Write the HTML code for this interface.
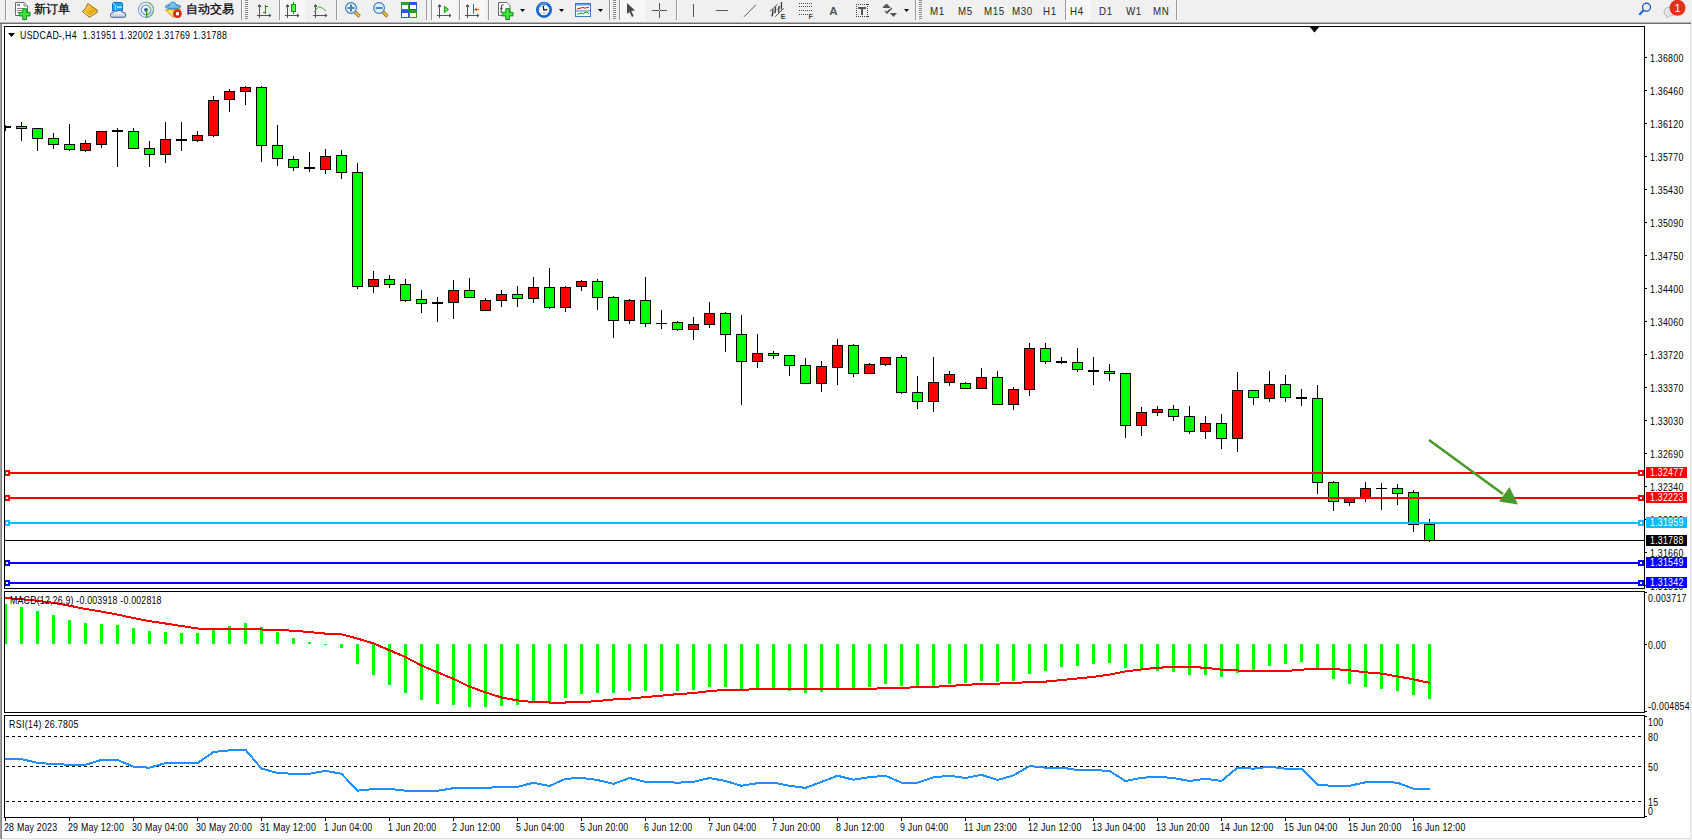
<!DOCTYPE html><html><head><meta charset="utf-8"><title>MT4 USDCAD H4</title><style>html,body{margin:0;padding:0;width:1692px;height:840px;overflow:hidden;background:#f0f0f0;}svg{position:absolute;left:0;top:0;display:block}text{font-family:"Liberation Sans",sans-serif}</style></head><body><svg width="1692" height="840" viewBox="0 0 1692 840" font-family="Liberation Sans, sans-serif"><rect x="0" y="0" width="1692" height="22" fill="#f0f0f0"/><g shape-rendering="crispEdges"><rect x="281" y="0" width="24" height="20" fill="#f7f7f7"/><rect x="281" y="20" width="24" height="1" fill="#fcfcfc"/><rect x="432" y="0" width="25" height="20" fill="#f7f7f7"/><rect x="432" y="20" width="25" height="1" fill="#fcfcfc"/><rect x="460" y="0" width="25" height="20" fill="#f7f7f7"/><rect x="460" y="20" width="25" height="1" fill="#fcfcfc"/><rect x="620" y="0" width="25" height="20" fill="#f7f7f7"/><rect x="620" y="20" width="25" height="1" fill="#fcfcfc"/><rect x="1066" y="0" width="24" height="20" fill="#f7f7f7"/><rect x="1066" y="20" width="24" height="1" fill="#fcfcfc"/><rect x="5" y="0" width="1" height="20" fill="#999"/><rect x="6" y="0" width="1" height="20" fill="#fbfbfb"/><rect x="241" y="0" width="1" height="20" fill="#999"/><rect x="242" y="0" width="1" height="20" fill="#fbfbfb"/><rect x="245" y="0" width="3" height="1" fill="#8c8c8c"/><rect x="245" y="2" width="3" height="1" fill="#8c8c8c"/><rect x="245" y="4" width="3" height="1" fill="#8c8c8c"/><rect x="245" y="6" width="3" height="1" fill="#8c8c8c"/><rect x="245" y="8" width="3" height="1" fill="#8c8c8c"/><rect x="245" y="10" width="3" height="1" fill="#8c8c8c"/><rect x="245" y="12" width="3" height="1" fill="#8c8c8c"/><rect x="245" y="14" width="3" height="1" fill="#8c8c8c"/><rect x="245" y="16" width="3" height="1" fill="#8c8c8c"/><rect x="245" y="18" width="3" height="1" fill="#8c8c8c"/><rect x="279" y="0" width="1" height="20" fill="#999"/><rect x="280" y="0" width="1" height="20" fill="#fbfbfb"/><rect x="336" y="0" width="1" height="20" fill="#999"/><rect x="337" y="0" width="1" height="20" fill="#fbfbfb"/><rect x="426" y="0" width="1" height="20" fill="#999"/><rect x="427" y="0" width="1" height="20" fill="#fbfbfb"/><rect x="431" y="0" width="1" height="20" fill="#999"/><rect x="432" y="0" width="1" height="20" fill="#fbfbfb"/><rect x="459" y="0" width="1" height="20" fill="#999"/><rect x="460" y="0" width="1" height="20" fill="#fbfbfb"/><rect x="488" y="0" width="1" height="20" fill="#999"/><rect x="489" y="0" width="1" height="20" fill="#fbfbfb"/><rect x="609" y="0" width="1" height="20" fill="#999"/><rect x="610" y="0" width="1" height="20" fill="#fbfbfb"/><rect x="613" y="0" width="3" height="1" fill="#8c8c8c"/><rect x="613" y="2" width="3" height="1" fill="#8c8c8c"/><rect x="613" y="4" width="3" height="1" fill="#8c8c8c"/><rect x="613" y="6" width="3" height="1" fill="#8c8c8c"/><rect x="613" y="8" width="3" height="1" fill="#8c8c8c"/><rect x="613" y="10" width="3" height="1" fill="#8c8c8c"/><rect x="613" y="12" width="3" height="1" fill="#8c8c8c"/><rect x="613" y="14" width="3" height="1" fill="#8c8c8c"/><rect x="613" y="16" width="3" height="1" fill="#8c8c8c"/><rect x="613" y="18" width="3" height="1" fill="#8c8c8c"/><rect x="619" y="0" width="1" height="20" fill="#999"/><rect x="620" y="0" width="1" height="20" fill="#fbfbfb"/><rect x="676" y="0" width="1" height="20" fill="#999"/><rect x="677" y="0" width="1" height="20" fill="#fbfbfb"/><rect x="915" y="0" width="1" height="20" fill="#999"/><rect x="916" y="0" width="1" height="20" fill="#fbfbfb"/><rect x="919" y="0" width="3" height="1" fill="#8c8c8c"/><rect x="919" y="2" width="3" height="1" fill="#8c8c8c"/><rect x="919" y="4" width="3" height="1" fill="#8c8c8c"/><rect x="919" y="6" width="3" height="1" fill="#8c8c8c"/><rect x="919" y="8" width="3" height="1" fill="#8c8c8c"/><rect x="919" y="10" width="3" height="1" fill="#8c8c8c"/><rect x="919" y="12" width="3" height="1" fill="#8c8c8c"/><rect x="919" y="14" width="3" height="1" fill="#8c8c8c"/><rect x="919" y="16" width="3" height="1" fill="#8c8c8c"/><rect x="919" y="18" width="3" height="1" fill="#8c8c8c"/><rect x="1065" y="0" width="1" height="20" fill="#999"/><rect x="1066" y="0" width="1" height="20" fill="#fbfbfb"/><rect x="1176" y="0" width="1" height="20" fill="#999"/><rect x="1177" y="0" width="1" height="20" fill="#fbfbfb"/></g><text x="33.5" y="12.6" fill="#000" stroke="#000" stroke-width="0.25" font-size="12" letter-spacing="0.2">新订单</text><text x="186" y="12.6" fill="#000" stroke="#000" stroke-width="0.25" font-size="12" letter-spacing="0">自动交易</text><text transform="translate(930,14.6) scale(0.95,1)" fill="#2a2a2a" font-size="10.3" letter-spacing="0.6">M1</text><text transform="translate(958,14.6) scale(0.95,1)" fill="#2a2a2a" font-size="10.3" letter-spacing="0.6">M5</text><text transform="translate(984,14.6) scale(0.95,1)" fill="#2a2a2a" font-size="10.3" letter-spacing="0.6">M15</text><text transform="translate(1012,14.6) scale(0.95,1)" fill="#2a2a2a" font-size="10.3" letter-spacing="0.6">M30</text><text transform="translate(1043,14.6) scale(0.95,1)" fill="#2a2a2a" font-size="10.3" letter-spacing="0.6">H1</text><text transform="translate(1070,14.6) scale(0.95,1)" fill="#2a2a2a" font-size="10.3" letter-spacing="0.6">H4</text><text transform="translate(1099,14.6) scale(0.95,1)" fill="#2a2a2a" font-size="10.3" letter-spacing="0.6">D1</text><text transform="translate(1126,14.6) scale(0.95,1)" fill="#2a2a2a" font-size="10.3" letter-spacing="0.6">W1</text><text transform="translate(1153,14.6) scale(0.95,1)" fill="#2a2a2a" font-size="10.3" letter-spacing="0.6">MN</text><path d="M15.5,2.5 H24 L27.5,6 V15.5 H15.5 Z" fill="#fff" stroke="#6a6a6a" stroke-width="1"/><path d="M24,2.5 V6 H27.5" fill="#ddd" stroke="#6a6a6a" stroke-width="0.8"/><g fill="#8a8a8a" shape-rendering="crispEdges"><rect x="17" y="4" width="3" height="2"/><rect x="17" y="8" width="6" height="1"/><rect x="17" y="10" width="5" height="1"/><rect x="17" y="12" width="4" height="1"/></g><path d="M22.8,8.7 h3.6 v3.6 h3.6 v3.6 h-3.6 v3.6 h-3.6 v-3.6 h-3.6 v-3.6 h3.6 z" fill="#3ce83c" stroke="#0a8a12" stroke-width="1"/><defs><linearGradient id="gbook" x1="0" y1="0" x2="1" y2="1"><stop offset="0" stop-color="#fff090"/><stop offset="0.5" stop-color="#e8b418"/><stop offset="1" stop-color="#d89a10"/></linearGradient><linearGradient id="gcloud" x1="0" y1="0" x2="0" y2="1"><stop offset="0" stop-color="#ffffff"/><stop offset="1" stop-color="#b8c4d8"/></linearGradient><linearGradient id="gsig" x1="0" y1="0" x2="1" y2="1"><stop offset="0" stop-color="#ffffff" stop-opacity="0"/><stop offset="1" stop-color="#40a040"/></linearGradient></defs><path d="M87.7,3.5 L97,10 L97.5,12.2 L89.5,17.3 L82.5,11.8 L85.8,7.8 Z" fill="url(#gbook)" stroke="#a06a10" stroke-width="1"/><path d="M84,12.3 L89.7,16 L96.8,11.5" fill="none" stroke="#f4dc90" stroke-width="1"/><path d="M112.5,3.5 L113.5,2.5 L121.5,2.5 L122.5,3.5 L122.5,11 L112.5,11 Z" fill="#18a4f4" stroke="#1070d0" stroke-width="1"/><path d="M113,3 L115.5,5.5 L115.5,10.5" fill="none" stroke="#c8ecff" stroke-width="0.8"/><rect x="117" y="6.5" width="5" height="1.2" fill="#e8f6ff"/><path d="M111.5,17.3 Q110,17 110.5,14.5 Q111,12.5 113,12.8 Q114,10.2 117,11.2 Q118.5,9.8 121,10.8 Q122.5,11.5 122.5,12.5 Q125.8,12 125.8,15 Q125.8,17.3 124,17.3 Z" fill="url(#gcloud)" stroke="#4a6494" stroke-width="1"/><path d="M146,9.8 L146,17.8 A8,8 0 0 0 153.8,9.8 Z" fill="url(#gsig)" opacity="0.8"/><circle cx="146" cy="9.8" r="7.6" fill="none" stroke="#7aa0e0" stroke-width="1.1" opacity="0.9"/><path d="M146,2.2 A7.6,7.6 0 0 1 153.6,9.8 A7.6,7.6 0 0 1 146,17.4" fill="none" stroke="#78b878" stroke-width="1.1"/><circle cx="146" cy="9.8" r="4.8" fill="none" stroke="#6a90d8" stroke-width="1.1"/><path d="M146,5 A4.8,4.8 0 0 1 150.8,9.8" fill="none" stroke="#88c088" stroke-width="1.1"/><circle cx="146" cy="9.8" r="1.9" fill="#2a5ad0"/><rect x="146" y="10" width="1.2" height="7.8" fill="#18a018"/><path d="M165.5,9.8 L180.5,9 L173.2,17.5 Z" fill="#f8e060" stroke="#c09010" stroke-width="0.9" stroke-linejoin="round"/><ellipse cx="173" cy="6.6" rx="7.8" ry="2.2" fill="#68b8ec" stroke="#2a80b0" stroke-width="0.9"/><path d="M169.3,6.5 Q169.5,2 172.8,2.1 Q176,2 176.3,6.2" fill="#80c8f4" stroke="#2a80b0" stroke-width="0.9"/><circle cx="177.4" cy="13.7" r="4" fill="#e02a10" stroke="#b01808" stroke-width="0.6"/><rect x="176" y="12.1" width="3" height="3.2" fill="#fff"/><g fill="#555555" shape-rendering="crispEdges"><rect x="259" y="5" width="1" height="13"/><rect x="258" y="6" width="3" height="1"/><rect x="257" y="15" width="14" height="1"/><rect x="269" y="14" width="1" height="3"/></g><path d="M259.5,4 L257.5,6.5 L261.5,6.5 Z" fill="#555555"/><path d="M271.5,15.5 L269,13.5 L269,17.5 Z" fill="#555555"/><g fill="#555555" shape-rendering="crispEdges"><rect x="287" y="5" width="1" height="13"/><rect x="286" y="6" width="3" height="1"/><rect x="285" y="15" width="14" height="1"/><rect x="297" y="14" width="1" height="3"/></g><path d="M287.5,4 L285.5,6.5 L289.5,6.5 Z" fill="#555555"/><path d="M299.5,15.5 L297,13.5 L297,17.5 Z" fill="#555555"/><g fill="#555555" shape-rendering="crispEdges"><rect x="315" y="5" width="1" height="13"/><rect x="314" y="6" width="3" height="1"/><rect x="313" y="15" width="14" height="1"/><rect x="325" y="14" width="1" height="3"/></g><path d="M315.5,4 L313.5,6.5 L317.5,6.5 Z" fill="#555555"/><path d="M327.5,15.5 L325,13.5 L325,17.5 Z" fill="#555555"/><g fill="#555555" shape-rendering="crispEdges"><rect x="439" y="5" width="1" height="13"/><rect x="438" y="6" width="3" height="1"/><rect x="437" y="15" width="14" height="1"/><rect x="449" y="14" width="1" height="3"/></g><path d="M439.5,4 L437.5,6.5 L441.5,6.5 Z" fill="#555555"/><path d="M451.5,15.5 L449,13.5 L449,17.5 Z" fill="#555555"/><g fill="#555555" shape-rendering="crispEdges"><rect x="467" y="5" width="1" height="13"/><rect x="466" y="6" width="3" height="1"/><rect x="465" y="15" width="14" height="1"/><rect x="477" y="14" width="1" height="3"/></g><path d="M467.5,4 L465.5,6.5 L469.5,6.5 Z" fill="#555555"/><path d="M479.5,15.5 L477,13.5 L477,17.5 Z" fill="#555555"/><g fill="#0a9a0a" shape-rendering="crispEdges"><rect x="265" y="5" width="1" height="9"/><rect x="266" y="6" width="2" height="1"/><rect x="263" y="12" width="2" height="1"/></g><rect x="293" y="2" width="1" height="12" fill="#0a9a0a" shape-rendering="crispEdges"/><rect x="291.5" y="4.5" width="4" height="7" fill="#50f050" stroke="#0a9a0a" stroke-width="1"/><path d="M314,12.5 Q318,6 320,7 Q322,7.5 326,11" fill="none" stroke="#3aa83a" stroke-width="1"/><path d="M354,11 L359.5,16.5" stroke="#9a6a10" stroke-width="3.2"/><path d="M354.3,11.3 L359.3,16.3" stroke="#f0d040" stroke-width="1.6"/><circle cx="351" cy="8" r="5.4" fill="#dff0fb" stroke="#3a7cc4" stroke-width="1.2"/><rect x="347.5" y="7" width="7" height="2" fill="#4a88b4"/><rect x="350" y="4.5" width="2" height="7" fill="#4a88b4"/><path d="M382,11 L387.5,16.5" stroke="#9a6a10" stroke-width="3.2"/><path d="M382.3,11.3 L387.3,16.3" stroke="#f0d040" stroke-width="1.6"/><circle cx="379" cy="8" r="5.4" fill="#dff0fb" stroke="#3a7cc4" stroke-width="1.2"/><rect x="375.5" y="7" width="7" height="2" fill="#4a88b4"/><rect x="401" y="2" width="8" height="8" fill="#2aa02a" shape-rendering="crispEdges"/><rect x="402" y="5" width="6" height="4" fill="#fff" shape-rendering="crispEdges"/><rect x="409" y="2" width="8" height="8" fill="#2a5ad8" shape-rendering="crispEdges"/><rect x="410" y="5" width="6" height="4" fill="#fff" shape-rendering="crispEdges"/><rect x="401" y="10" width="8" height="8" fill="#2a5ad8" shape-rendering="crispEdges"/><rect x="402" y="13" width="6" height="4" fill="#fff" shape-rendering="crispEdges"/><rect x="409" y="10" width="8" height="8" fill="#2aa02a" shape-rendering="crispEdges"/><rect x="410" y="13" width="6" height="4" fill="#fff" shape-rendering="crispEdges"/><path d="M444.5,6.5 L448.5,9.5 L444.5,12.5 Z" fill="#70e070" stroke="#0a9a0a" stroke-width="1"/><rect x="473" y="4" width="1" height="10" fill="#1a70b0" shape-rendering="crispEdges"/><path d="M474,9.5 L477,7.5 L476.5,9 L479,9 L479,10 L476.5,10 L477,11.5 Z" fill="#e05010"/><path d="M498.5,2.5 H507 L510,5.5 V15.5 H498.5 Z" fill="#fff" stroke="#6a6a6a" stroke-width="1"/><path d="M503.5,4.8 Q501.5,4.3 501.4,7 L501,13" fill="none" stroke="#3a3428" stroke-width="1"/><path d="M500,8.3 L503,8.3" stroke="#3a3428" stroke-width="0.8"/><path d="M505.8,8.7 h3.6 v3.6 h3.6 v3.6 h-3.6 v3.6 h-3.6 v-3.6 h-3.6 v-3.6 h3.6 z" fill="#3ce83c" stroke="#0a8a12" stroke-width="1"/><path d="M520,9 L525,9 L522.5,12 Z" fill="#000"/><path d="M559,9 L564,9 L561.5,12 Z" fill="#000"/><path d="M598,9 L603,9 L600.5,12 Z" fill="#000"/><path d="M904,9 L909,9 L906.5,12 Z" fill="#000"/><circle cx="544" cy="9.85" r="6.7" fill="#fafafa" stroke="#1268d0" stroke-width="2.7"/><path d="M539,6 A6.7,6.7 0 0 1 547,3.6" fill="none" stroke="#60b8ff" stroke-width="1"/><g fill="#9a9a9a" shape-rendering="crispEdges"><rect x="544" y="4.5" width="1" height="1"/><rect x="547" y="5.5" width="1" height="1"/><rect x="548.5" y="9" width="1" height="1"/><rect x="547" y="13" width="1" height="1"/><rect x="540" y="13" width="1" height="1"/><rect x="539" y="9" width="1" height="1"/><rect x="540" y="5.5" width="1" height="1"/></g><rect x="543" y="12.5" width="2" height="1" fill="#4a9af0"/><path d="M543.2,5.5 L543.8,10 L547.2,9.6" fill="none" stroke="#111" stroke-width="1.2"/><rect x="575.5" y="3.5" width="15" height="13" fill="#fff" stroke="#3a78c8" stroke-width="1"/><rect x="576" y="4" width="14" height="1.5" fill="#6aa0e0"/><rect x="576" y="10.5" width="14" height="1" fill="#3a78c8"/><polyline points="577,9 579,8.6 581,8 583,7.5 585,8.2 587,7.6 589,7" fill="none" stroke="#a02010" stroke-width="1"/><polyline points="577,14.2 579,13.8 581,13 583,13.8 585,12.5 587,12 589,14" fill="none" stroke="#10a010" stroke-width="1"/><path d="M627,3 L627,14 L629.5,12 L632,17 L633.7,16 L631.3,11 L635,10.6 Z" fill="#4a4a4a"/><g fill="#555555" shape-rendering="crispEdges"><rect x="652" y="10" width="7" height="1"/><rect x="660" y="10" width="7" height="1"/><rect x="659" y="3" width="1" height="7"/><rect x="659" y="11" width="1" height="7"/><rect x="693" y="4" width="1" height="13"/><rect x="716" y="10" width="12" height="1"/></g><line x1="744" y1="16.8" x2="756" y2="4.7" stroke="#555555" stroke-width="1"/><line x1="769.8" y1="11.5" x2="777.6" y2="4.1" stroke="#555555" stroke-width="1"/><line x1="775.1" y1="16.7" x2="784" y2="8.3" stroke="#555555" stroke-width="1"/><line x1="770.5" y1="15.6" x2="782" y2="4.8" stroke="#555555" stroke-width="0.8" opacity="0.7"/><path d="M772.3,16.5 L773,9.2 M775,13.3 L775.6,6.7 M778.6,12.6 L779,6 M781.4,9.5 L781.5,2.1" stroke="#3a3a3a" stroke-width="1.3" fill="none"/><text x="780.8" y="18.8" font-size="7" font-weight="bold" fill="#333">E</text><rect x="799" y="3" width="1" height="1" fill="#444" shape-rendering="crispEdges"/><rect x="801" y="3" width="1" height="1" fill="#444" shape-rendering="crispEdges"/><rect x="803" y="3" width="1" height="1" fill="#444" shape-rendering="crispEdges"/><rect x="805" y="3" width="1" height="1" fill="#444" shape-rendering="crispEdges"/><rect x="807" y="3" width="1" height="1" fill="#444" shape-rendering="crispEdges"/><rect x="809" y="3" width="1" height="1" fill="#444" shape-rendering="crispEdges"/><rect x="811" y="3" width="1" height="1" fill="#444" shape-rendering="crispEdges"/><rect x="799" y="6" width="1" height="1" fill="#444" shape-rendering="crispEdges"/><rect x="801" y="6" width="1" height="1" fill="#444" shape-rendering="crispEdges"/><rect x="803" y="6" width="1" height="1" fill="#444" shape-rendering="crispEdges"/><rect x="805" y="6" width="1" height="1" fill="#444" shape-rendering="crispEdges"/><rect x="807" y="6" width="1" height="1" fill="#444" shape-rendering="crispEdges"/><rect x="809" y="6" width="1" height="1" fill="#444" shape-rendering="crispEdges"/><rect x="811" y="6" width="1" height="1" fill="#444" shape-rendering="crispEdges"/><rect x="799" y="10" width="1" height="1" fill="#444" shape-rendering="crispEdges"/><rect x="801" y="10" width="1" height="1" fill="#444" shape-rendering="crispEdges"/><rect x="803" y="10" width="1" height="1" fill="#444" shape-rendering="crispEdges"/><rect x="805" y="10" width="1" height="1" fill="#444" shape-rendering="crispEdges"/><rect x="807" y="10" width="1" height="1" fill="#444" shape-rendering="crispEdges"/><rect x="809" y="10" width="1" height="1" fill="#444" shape-rendering="crispEdges"/><rect x="811" y="10" width="1" height="1" fill="#444" shape-rendering="crispEdges"/><rect x="799" y="14" width="1" height="1" fill="#444" shape-rendering="crispEdges"/><rect x="801" y="14" width="1" height="1" fill="#444" shape-rendering="crispEdges"/><rect x="803" y="14" width="1" height="1" fill="#444" shape-rendering="crispEdges"/><rect x="805" y="14" width="1" height="1" fill="#444" shape-rendering="crispEdges"/><rect x="807" y="14" width="1" height="1" fill="#444" shape-rendering="crispEdges"/><text x="808.5" y="19" font-size="7" font-weight="bold" fill="#444">F</text><text x="829.3" y="14.8" font-size="11.5" font-weight="bold" fill="#555">A</text><rect x="856" y="4" width="1" height="1" fill="#444" shape-rendering="crispEdges"/><rect x="856" y="16" width="1" height="1" fill="#444" shape-rendering="crispEdges"/><rect x="858" y="4" width="1" height="1" fill="#444" shape-rendering="crispEdges"/><rect x="858" y="16" width="1" height="1" fill="#444" shape-rendering="crispEdges"/><rect x="860" y="4" width="1" height="1" fill="#444" shape-rendering="crispEdges"/><rect x="860" y="16" width="1" height="1" fill="#444" shape-rendering="crispEdges"/><rect x="862" y="4" width="1" height="1" fill="#444" shape-rendering="crispEdges"/><rect x="862" y="16" width="1" height="1" fill="#444" shape-rendering="crispEdges"/><rect x="864" y="4" width="1" height="1" fill="#444" shape-rendering="crispEdges"/><rect x="864" y="16" width="1" height="1" fill="#444" shape-rendering="crispEdges"/><rect x="866" y="4" width="1" height="1" fill="#444" shape-rendering="crispEdges"/><rect x="866" y="16" width="1" height="1" fill="#444" shape-rendering="crispEdges"/><rect x="868" y="4" width="1" height="1" fill="#444" shape-rendering="crispEdges"/><rect x="868" y="16" width="1" height="1" fill="#444" shape-rendering="crispEdges"/><rect x="856" y="4" width="1" height="1" fill="#444" shape-rendering="crispEdges"/><rect x="867" y="4" width="1" height="1" fill="#444" shape-rendering="crispEdges"/><rect x="856" y="6" width="1" height="1" fill="#444" shape-rendering="crispEdges"/><rect x="867" y="6" width="1" height="1" fill="#444" shape-rendering="crispEdges"/><rect x="856" y="8" width="1" height="1" fill="#444" shape-rendering="crispEdges"/><rect x="867" y="8" width="1" height="1" fill="#444" shape-rendering="crispEdges"/><rect x="856" y="10" width="1" height="1" fill="#444" shape-rendering="crispEdges"/><rect x="867" y="10" width="1" height="1" fill="#444" shape-rendering="crispEdges"/><rect x="856" y="12" width="1" height="1" fill="#444" shape-rendering="crispEdges"/><rect x="867" y="12" width="1" height="1" fill="#444" shape-rendering="crispEdges"/><rect x="856" y="14" width="1" height="1" fill="#444" shape-rendering="crispEdges"/><rect x="867" y="14" width="1" height="1" fill="#444" shape-rendering="crispEdges"/><rect x="856" y="16" width="1" height="1" fill="#444" shape-rendering="crispEdges"/><rect x="867" y="16" width="1" height="1" fill="#444" shape-rendering="crispEdges"/><g fill="#555" shape-rendering="crispEdges"><rect x="858" y="7" width="8" height="1.5"/><rect x="861" y="7" width="2" height="8"/></g><path d="M883,7.5 L886.5,4 L890,7.5 Z M886,13 L890,9" fill="#555" stroke="#555" stroke-width="1"/><path d="M885,11 L887,13 L892,8" fill="none" stroke="#555" stroke-width="1.3"/><path d="M890,13 L897,13 L893.5,17 Z" fill="#555"/><circle cx="1646.5" cy="7.3" r="4" fill="none" stroke="#2060d0" stroke-width="1.4"/><line x1="1643.5" y1="10.3" x2="1639.3" y2="14.8" stroke="#2060d0" stroke-width="2"/><path d="M1664,12 Q1664,7.5 1669,7.5 Q1675,7.5 1675,12 Q1675,16 1669,16 L1666.5,18 L1667,15.8 Q1664,15 1664,12 Z" fill="#e4e6ea" stroke="#b0b0b0" stroke-width="0.8"/><circle cx="1677.5" cy="7.8" r="8" fill="#e03418"/><text x="1677.5" y="12" font-size="11" fill="#fff" text-anchor="middle">1</text><rect x="0" y="22" width="1692" height="818" fill="#ffffff"/><rect x="0" y="22" width="1692" height="1" fill="#b4b4b4"/><rect x="0" y="23" width="1692" height="1" fill="#6e6e6e"/><rect x="0" y="24" width="1" height="815" fill="#a0a0a0"/><rect x="1" y="24" width="1" height="815" fill="#808080"/><rect x="2" y="838" width="1689" height="1" fill="#e3e3e3"/><rect x="1690" y="24" width="1" height="815" fill="#e3e3e3"/><rect x="0" y="839" width="1692" height="1" fill="#f0f0f0"/><rect x="1691" y="22" width="1" height="818" fill="#f0f0f0"/><defs><clipPath id="cm"><rect x="5" y="27" width="1639" height="561"/></clipPath><clipPath id="cmacd"><rect x="5" y="592" width="1639" height="120"/></clipPath><clipPath id="crsi"><rect x="5" y="716" width="1639" height="101"/></clipPath></defs><g clip-path="url(#cm)" shape-rendering="crispEdges"><rect x="5" y="125" width="1" height="6" fill="#000"/><rect x="0" y="126" width="11" height="2" fill="#000"/><rect x="21" y="122" width="1" height="19" fill="#000"/><rect x="16" y="126" width="11" height="3" fill="#000"/><rect x="17" y="127" width="9" height="1" fill="#00ff00"/><rect x="37" y="128" width="1" height="23" fill="#000"/><rect x="32" y="128" width="11" height="11" fill="#000"/><rect x="33" y="129" width="9" height="9" fill="#00ff00"/><rect x="53" y="133" width="1" height="16" fill="#000"/><rect x="48" y="138" width="11" height="7" fill="#000"/><rect x="49" y="139" width="9" height="5" fill="#00ff00"/><rect x="69" y="124" width="1" height="27" fill="#000"/><rect x="64" y="144" width="11" height="6" fill="#000"/><rect x="65" y="145" width="9" height="4" fill="#00ff00"/><rect x="85" y="140" width="1" height="12" fill="#000"/><rect x="80" y="143" width="11" height="8" fill="#000"/><rect x="81" y="144" width="9" height="6" fill="#ff0000"/><rect x="101" y="131" width="1" height="17" fill="#000"/><rect x="96" y="131" width="11" height="14" fill="#000"/><rect x="97" y="132" width="9" height="12" fill="#ff0000"/><rect x="117" y="128" width="1" height="39" fill="#000"/><rect x="112" y="130" width="11" height="2" fill="#000"/><rect x="133" y="128" width="1" height="21" fill="#000"/><rect x="128" y="131" width="11" height="18" fill="#000"/><rect x="129" y="132" width="9" height="16" fill="#00ff00"/><rect x="149" y="141" width="1" height="26" fill="#000"/><rect x="144" y="148" width="11" height="7" fill="#000"/><rect x="145" y="149" width="9" height="5" fill="#00ff00"/><rect x="165" y="122" width="1" height="41" fill="#000"/><rect x="160" y="139" width="11" height="16" fill="#000"/><rect x="161" y="140" width="9" height="14" fill="#ff0000"/><rect x="181" y="122" width="1" height="29" fill="#000"/><rect x="176" y="139" width="11" height="2" fill="#000"/><rect x="197" y="131" width="1" height="11" fill="#000"/><rect x="192" y="135" width="11" height="6" fill="#000"/><rect x="193" y="136" width="9" height="4" fill="#ff0000"/><rect x="213" y="96" width="1" height="41" fill="#000"/><rect x="208" y="100" width="11" height="36" fill="#000"/><rect x="209" y="101" width="9" height="34" fill="#ff0000"/><rect x="229" y="89" width="1" height="23" fill="#000"/><rect x="224" y="91" width="11" height="9" fill="#000"/><rect x="225" y="92" width="9" height="7" fill="#ff0000"/><rect x="245" y="86" width="1" height="19" fill="#000"/><rect x="240" y="87" width="11" height="5" fill="#000"/><rect x="241" y="88" width="9" height="3" fill="#ff0000"/><rect x="261" y="86" width="1" height="76" fill="#000"/><rect x="256" y="87" width="11" height="59" fill="#000"/><rect x="257" y="88" width="9" height="57" fill="#00ff00"/><rect x="277" y="125" width="1" height="41" fill="#000"/><rect x="272" y="145" width="11" height="14" fill="#000"/><rect x="273" y="146" width="9" height="12" fill="#00ff00"/><rect x="293" y="156" width="1" height="15" fill="#000"/><rect x="288" y="159" width="11" height="9" fill="#000"/><rect x="289" y="160" width="9" height="7" fill="#00ff00"/><rect x="309" y="152" width="1" height="20" fill="#000"/><rect x="304" y="167" width="11" height="2" fill="#000"/><rect x="325" y="149" width="1" height="25" fill="#000"/><rect x="320" y="156" width="11" height="14" fill="#000"/><rect x="321" y="157" width="9" height="12" fill="#ff0000"/><rect x="341" y="150" width="1" height="29" fill="#000"/><rect x="336" y="155" width="11" height="18" fill="#000"/><rect x="337" y="156" width="9" height="16" fill="#00ff00"/><rect x="357" y="163" width="1" height="126" fill="#000"/><rect x="352" y="172" width="11" height="115" fill="#000"/><rect x="353" y="173" width="9" height="113" fill="#00ff00"/><rect x="373" y="271" width="1" height="22" fill="#000"/><rect x="368" y="279" width="11" height="8" fill="#000"/><rect x="369" y="280" width="9" height="6" fill="#ff0000"/><rect x="389" y="275" width="1" height="13" fill="#000"/><rect x="384" y="279" width="11" height="6" fill="#000"/><rect x="385" y="280" width="9" height="4" fill="#00ff00"/><rect x="405" y="279" width="1" height="23" fill="#000"/><rect x="400" y="284" width="11" height="17" fill="#000"/><rect x="401" y="285" width="9" height="15" fill="#00ff00"/><rect x="421" y="290" width="1" height="23" fill="#000"/><rect x="416" y="299" width="11" height="5" fill="#000"/><rect x="417" y="300" width="9" height="3" fill="#00ff00"/><rect x="437" y="297" width="1" height="25" fill="#000"/><rect x="432" y="302" width="11" height="2" fill="#000"/><rect x="453" y="280" width="1" height="39" fill="#000"/><rect x="448" y="290" width="11" height="13" fill="#000"/><rect x="449" y="291" width="9" height="11" fill="#ff0000"/><rect x="469" y="278" width="1" height="20" fill="#000"/><rect x="464" y="290" width="11" height="8" fill="#000"/><rect x="465" y="291" width="9" height="6" fill="#00ff00"/><rect x="485" y="298" width="1" height="13" fill="#000"/><rect x="480" y="300" width="11" height="11" fill="#000"/><rect x="481" y="301" width="9" height="9" fill="#ff0000"/><rect x="501" y="290" width="1" height="17" fill="#000"/><rect x="496" y="294" width="11" height="7" fill="#000"/><rect x="497" y="295" width="9" height="5" fill="#ff0000"/><rect x="517" y="286" width="1" height="21" fill="#000"/><rect x="512" y="294" width="11" height="5" fill="#000"/><rect x="513" y="295" width="9" height="3" fill="#00ff00"/><rect x="533" y="277" width="1" height="26" fill="#000"/><rect x="528" y="287" width="11" height="12" fill="#000"/><rect x="529" y="288" width="9" height="10" fill="#ff0000"/><rect x="549" y="268" width="1" height="41" fill="#000"/><rect x="544" y="287" width="11" height="21" fill="#000"/><rect x="545" y="288" width="9" height="19" fill="#00ff00"/><rect x="565" y="286" width="1" height="26" fill="#000"/><rect x="560" y="287" width="11" height="21" fill="#000"/><rect x="561" y="288" width="9" height="19" fill="#ff0000"/><rect x="581" y="280" width="1" height="11" fill="#000"/><rect x="576" y="281" width="11" height="6" fill="#000"/><rect x="577" y="282" width="9" height="4" fill="#ff0000"/><rect x="597" y="279" width="1" height="31" fill="#000"/><rect x="592" y="281" width="11" height="17" fill="#000"/><rect x="593" y="282" width="9" height="15" fill="#00ff00"/><rect x="613" y="296" width="1" height="42" fill="#000"/><rect x="608" y="297" width="11" height="24" fill="#000"/><rect x="609" y="298" width="9" height="22" fill="#00ff00"/><rect x="629" y="299" width="1" height="25" fill="#000"/><rect x="624" y="300" width="11" height="21" fill="#000"/><rect x="625" y="301" width="9" height="19" fill="#ff0000"/><rect x="645" y="277" width="1" height="50" fill="#000"/><rect x="640" y="300" width="11" height="24" fill="#000"/><rect x="641" y="301" width="9" height="22" fill="#00ff00"/><rect x="661" y="310" width="1" height="19" fill="#000"/><rect x="656" y="323" width="11" height="1" fill="#000"/><rect x="677" y="321" width="1" height="10" fill="#000"/><rect x="672" y="322" width="11" height="8" fill="#000"/><rect x="673" y="323" width="9" height="6" fill="#00ff00"/><rect x="693" y="317" width="1" height="23" fill="#000"/><rect x="688" y="324" width="11" height="6" fill="#000"/><rect x="689" y="325" width="9" height="4" fill="#ff0000"/><rect x="709" y="302" width="1" height="26" fill="#000"/><rect x="704" y="313" width="11" height="12" fill="#000"/><rect x="705" y="314" width="9" height="10" fill="#ff0000"/><rect x="725" y="312" width="1" height="40" fill="#000"/><rect x="720" y="313" width="11" height="22" fill="#000"/><rect x="721" y="314" width="9" height="20" fill="#00ff00"/><rect x="741" y="315" width="1" height="90" fill="#000"/><rect x="736" y="334" width="11" height="28" fill="#000"/><rect x="737" y="335" width="9" height="26" fill="#00ff00"/><rect x="757" y="334" width="1" height="34" fill="#000"/><rect x="752" y="353" width="11" height="9" fill="#000"/><rect x="753" y="354" width="9" height="7" fill="#ff0000"/><rect x="773" y="351" width="1" height="8" fill="#000"/><rect x="768" y="353" width="11" height="3" fill="#000"/><rect x="769" y="354" width="9" height="1" fill="#00ff00"/><rect x="789" y="355" width="1" height="21" fill="#000"/><rect x="784" y="355" width="11" height="11" fill="#000"/><rect x="785" y="356" width="9" height="9" fill="#00ff00"/><rect x="805" y="358" width="1" height="26" fill="#000"/><rect x="800" y="365" width="11" height="19" fill="#000"/><rect x="801" y="366" width="9" height="17" fill="#00ff00"/><rect x="821" y="361" width="1" height="31" fill="#000"/><rect x="816" y="366" width="11" height="18" fill="#000"/><rect x="817" y="367" width="9" height="16" fill="#ff0000"/><rect x="837" y="339" width="1" height="46" fill="#000"/><rect x="832" y="345" width="11" height="23" fill="#000"/><rect x="833" y="346" width="9" height="21" fill="#ff0000"/><rect x="853" y="344" width="1" height="33" fill="#000"/><rect x="848" y="345" width="11" height="29" fill="#000"/><rect x="849" y="346" width="9" height="27" fill="#00ff00"/><rect x="869" y="363" width="1" height="11" fill="#000"/><rect x="864" y="364" width="11" height="10" fill="#000"/><rect x="865" y="365" width="9" height="8" fill="#ff0000"/><rect x="885" y="357" width="1" height="9" fill="#000"/><rect x="880" y="357" width="11" height="8" fill="#000"/><rect x="881" y="358" width="9" height="6" fill="#ff0000"/><rect x="901" y="355" width="1" height="39" fill="#000"/><rect x="896" y="357" width="11" height="36" fill="#000"/><rect x="897" y="358" width="9" height="34" fill="#00ff00"/><rect x="917" y="376" width="1" height="33" fill="#000"/><rect x="912" y="392" width="11" height="10" fill="#000"/><rect x="913" y="393" width="9" height="8" fill="#00ff00"/><rect x="933" y="357" width="1" height="55" fill="#000"/><rect x="928" y="382" width="11" height="20" fill="#000"/><rect x="929" y="383" width="9" height="18" fill="#ff0000"/><rect x="949" y="371" width="1" height="15" fill="#000"/><rect x="944" y="374" width="11" height="9" fill="#000"/><rect x="945" y="375" width="9" height="7" fill="#ff0000"/><rect x="965" y="382" width="1" height="7" fill="#000"/><rect x="960" y="383" width="11" height="6" fill="#000"/><rect x="961" y="384" width="9" height="4" fill="#00ff00"/><rect x="981" y="368" width="1" height="21" fill="#000"/><rect x="976" y="377" width="11" height="12" fill="#000"/><rect x="977" y="378" width="9" height="10" fill="#ff0000"/><rect x="997" y="371" width="1" height="34" fill="#000"/><rect x="992" y="377" width="11" height="28" fill="#000"/><rect x="993" y="378" width="9" height="26" fill="#00ff00"/><rect x="1013" y="387" width="1" height="23" fill="#000"/><rect x="1008" y="389" width="11" height="16" fill="#000"/><rect x="1009" y="390" width="9" height="14" fill="#ff0000"/><rect x="1029" y="343" width="1" height="53" fill="#000"/><rect x="1024" y="348" width="11" height="42" fill="#000"/><rect x="1025" y="349" width="9" height="40" fill="#ff0000"/><rect x="1045" y="343" width="1" height="21" fill="#000"/><rect x="1040" y="348" width="11" height="14" fill="#000"/><rect x="1041" y="349" width="9" height="12" fill="#00ff00"/><rect x="1061" y="357" width="1" height="7" fill="#000"/><rect x="1056" y="361" width="11" height="2" fill="#000"/><rect x="1077" y="348" width="1" height="24" fill="#000"/><rect x="1072" y="362" width="11" height="8" fill="#000"/><rect x="1073" y="363" width="9" height="6" fill="#00ff00"/><rect x="1093" y="357" width="1" height="28" fill="#000"/><rect x="1088" y="370" width="11" height="2" fill="#000"/><rect x="1109" y="364" width="1" height="17" fill="#000"/><rect x="1104" y="371" width="11" height="3" fill="#000"/><rect x="1105" y="372" width="9" height="1" fill="#00ff00"/><rect x="1125" y="373" width="1" height="65" fill="#000"/><rect x="1120" y="373" width="11" height="53" fill="#000"/><rect x="1121" y="374" width="9" height="51" fill="#00ff00"/><rect x="1141" y="407" width="1" height="29" fill="#000"/><rect x="1136" y="412" width="11" height="14" fill="#000"/><rect x="1137" y="413" width="9" height="12" fill="#ff0000"/><rect x="1157" y="406" width="1" height="10" fill="#000"/><rect x="1152" y="409" width="11" height="4" fill="#000"/><rect x="1153" y="410" width="9" height="2" fill="#ff0000"/><rect x="1173" y="405" width="1" height="16" fill="#000"/><rect x="1168" y="409" width="11" height="8" fill="#000"/><rect x="1169" y="410" width="9" height="6" fill="#00ff00"/><rect x="1189" y="406" width="1" height="28" fill="#000"/><rect x="1184" y="416" width="11" height="16" fill="#000"/><rect x="1185" y="417" width="9" height="14" fill="#00ff00"/><rect x="1205" y="416" width="1" height="23" fill="#000"/><rect x="1200" y="423" width="11" height="9" fill="#000"/><rect x="1201" y="424" width="9" height="7" fill="#ff0000"/><rect x="1221" y="414" width="1" height="35" fill="#000"/><rect x="1216" y="423" width="11" height="16" fill="#000"/><rect x="1217" y="424" width="9" height="14" fill="#00ff00"/><rect x="1237" y="372" width="1" height="80" fill="#000"/><rect x="1232" y="390" width="11" height="49" fill="#000"/><rect x="1233" y="391" width="9" height="47" fill="#ff0000"/><rect x="1253" y="390" width="1" height="15" fill="#000"/><rect x="1248" y="390" width="11" height="8" fill="#000"/><rect x="1249" y="391" width="9" height="6" fill="#00ff00"/><rect x="1269" y="371" width="1" height="31" fill="#000"/><rect x="1264" y="384" width="11" height="15" fill="#000"/><rect x="1265" y="385" width="9" height="13" fill="#ff0000"/><rect x="1285" y="375" width="1" height="27" fill="#000"/><rect x="1280" y="384" width="11" height="14" fill="#000"/><rect x="1281" y="385" width="9" height="12" fill="#00ff00"/><rect x="1301" y="389" width="1" height="17" fill="#000"/><rect x="1296" y="397" width="11" height="2" fill="#000"/><rect x="1317" y="385" width="1" height="109" fill="#000"/><rect x="1312" y="398" width="11" height="85" fill="#000"/><rect x="1313" y="399" width="9" height="83" fill="#00ff00"/><rect x="1333" y="481" width="1" height="30" fill="#000"/><rect x="1328" y="482" width="11" height="20" fill="#000"/><rect x="1329" y="483" width="9" height="18" fill="#00ff00"/><rect x="1349" y="497" width="1" height="9" fill="#000"/><rect x="1344" y="497" width="11" height="6" fill="#000"/><rect x="1345" y="498" width="9" height="4" fill="#ff0000"/><rect x="1365" y="482" width="1" height="20" fill="#000"/><rect x="1360" y="488" width="11" height="10" fill="#000"/><rect x="1361" y="489" width="9" height="8" fill="#ff0000"/><rect x="1381" y="483" width="1" height="27" fill="#000"/><rect x="1376" y="488" width="11" height="1" fill="#000"/><rect x="1397" y="484" width="1" height="21" fill="#000"/><rect x="1392" y="488" width="11" height="6" fill="#000"/><rect x="1393" y="489" width="9" height="4" fill="#00ff00"/><rect x="1413" y="490" width="1" height="42" fill="#000"/><rect x="1408" y="492" width="11" height="33" fill="#000"/><rect x="1409" y="493" width="9" height="31" fill="#00ff00"/><rect x="1429" y="519" width="1" height="23" fill="#000"/><rect x="1424" y="524" width="11" height="17" fill="#000"/><rect x="1425" y="525" width="9" height="15" fill="#00ff00"/></g><g shape-rendering="crispEdges"><rect x="4" y="540" width="1640" height="1" fill="#000"/><rect x="4" y="472" width="1640" height="2" fill="#ff0000"/><rect x="4" y="470" width="6" height="6" fill="#ff0000"/><rect x="6" y="472" width="2" height="2" fill="#fff"/><rect x="1638" y="470" width="6" height="6" fill="#ff0000"/><rect x="1640" y="472" width="2" height="2" fill="#fff"/><rect x="4" y="497" width="1640" height="2" fill="#ff0000"/><rect x="4" y="495" width="6" height="6" fill="#ff0000"/><rect x="6" y="497" width="2" height="2" fill="#fff"/><rect x="1638" y="495" width="6" height="6" fill="#ff0000"/><rect x="1640" y="497" width="2" height="2" fill="#fff"/><rect x="4" y="522" width="1640" height="2" fill="#00bfff"/><rect x="4" y="520" width="6" height="6" fill="#00bfff"/><rect x="6" y="522" width="2" height="2" fill="#fff"/><rect x="1638" y="520" width="6" height="6" fill="#00bfff"/><rect x="1640" y="522" width="2" height="2" fill="#fff"/><rect x="4" y="562" width="1640" height="2" fill="#0000ff"/><rect x="4" y="560" width="6" height="6" fill="#0000ff"/><rect x="6" y="562" width="2" height="2" fill="#fff"/><rect x="1638" y="560" width="6" height="6" fill="#0000ff"/><rect x="1640" y="562" width="2" height="2" fill="#fff"/><rect x="4" y="582" width="1640" height="2" fill="#0000ff"/><rect x="4" y="580" width="6" height="6" fill="#0000ff"/><rect x="6" y="582" width="2" height="2" fill="#fff"/><rect x="1638" y="580" width="6" height="6" fill="#0000ff"/><rect x="1640" y="582" width="2" height="2" fill="#fff"/></g><line x1="1429" y1="440" x2="1503" y2="494" stroke="#4a9a2a" stroke-width="2.6"/><polygon points="1499,501.5 1509.5,487 1518,504.5" fill="#4a9a2a"/><g shape-rendering="crispEdges" fill="#000"><rect x="4" y="26" width="1641" height="1"/><rect x="4" y="26" width="1" height="563"/><rect x="1644" y="26" width="1" height="563"/><rect x="4" y="588" width="1641" height="1"/><rect x="4" y="591" width="1641" height="1"/><rect x="4" y="591" width="1" height="122"/><rect x="1644" y="591" width="1" height="122"/><rect x="4" y="712" width="1641" height="1"/><rect x="4" y="715" width="1641" height="1"/><rect x="4" y="715" width="1" height="103"/><rect x="1644" y="715" width="1" height="103"/><rect x="4" y="817" width="1641" height="1"/></g><polygon points="1309.5,26.5 1319.5,26.5 1314.5,32.5" fill="#000"/><g clip-path="url(#cmacd)" shape-rendering="crispEdges" fill="#00ff00"><rect x="4" y="604" width="3" height="40"/><rect x="20" y="607" width="3" height="37"/><rect x="36" y="611" width="3" height="33"/><rect x="52" y="615" width="3" height="29"/><rect x="68" y="620" width="3" height="24"/><rect x="84" y="623" width="3" height="21"/><rect x="100" y="624" width="3" height="20"/><rect x="116" y="625" width="3" height="19"/><rect x="132" y="628" width="3" height="16"/><rect x="148" y="631" width="3" height="13"/><rect x="164" y="632" width="3" height="12"/><rect x="180" y="633" width="3" height="11"/><rect x="196" y="633" width="3" height="11"/><rect x="212" y="630" width="3" height="14"/><rect x="228" y="626" width="3" height="18"/><rect x="244" y="623" width="3" height="21"/><rect x="260" y="627" width="3" height="17"/><rect x="276" y="632" width="3" height="12"/><rect x="292" y="638" width="3" height="6"/><rect x="308" y="642" width="3" height="2"/><rect x="324" y="644" width="3" height="1"/><rect x="340" y="644" width="3" height="4"/><rect x="356" y="644" width="3" height="20"/><rect x="372" y="644" width="3" height="31"/><rect x="388" y="644" width="3" height="41"/><rect x="404" y="644" width="3" height="49"/><rect x="420" y="644" width="3" height="56"/><rect x="436" y="644" width="3" height="60"/><rect x="452" y="644" width="3" height="61"/><rect x="468" y="644" width="3" height="63"/><rect x="484" y="644" width="3" height="63"/><rect x="500" y="644" width="3" height="62"/><rect x="516" y="644" width="3" height="61"/><rect x="532" y="644" width="3" height="58"/><rect x="548" y="644" width="3" height="58"/><rect x="564" y="644" width="3" height="54"/><rect x="580" y="644" width="3" height="50"/><rect x="596" y="644" width="3" height="49"/><rect x="612" y="644" width="3" height="49"/><rect x="628" y="644" width="3" height="47"/><rect x="644" y="644" width="3" height="47"/><rect x="660" y="644" width="3" height="47"/><rect x="676" y="644" width="3" height="47"/><rect x="692" y="644" width="3" height="46"/><rect x="708" y="644" width="3" height="43"/><rect x="724" y="644" width="3" height="43"/><rect x="740" y="644" width="3" height="45"/><rect x="756" y="644" width="3" height="44"/><rect x="772" y="644" width="3" height="44"/><rect x="788" y="644" width="3" height="47"/><rect x="804" y="644" width="3" height="49"/><rect x="820" y="644" width="3" height="48"/><rect x="836" y="644" width="3" height="44"/><rect x="852" y="644" width="3" height="44"/><rect x="868" y="644" width="3" height="43"/><rect x="884" y="644" width="3" height="40"/><rect x="900" y="644" width="3" height="42"/><rect x="916" y="644" width="3" height="43"/><rect x="932" y="644" width="3" height="42"/><rect x="948" y="644" width="3" height="40"/><rect x="964" y="644" width="3" height="39"/><rect x="980" y="644" width="3" height="37"/><rect x="996" y="644" width="3" height="38"/><rect x="1012" y="644" width="3" height="37"/><rect x="1028" y="644" width="3" height="30"/><rect x="1044" y="644" width="3" height="27"/><rect x="1060" y="644" width="3" height="23"/><rect x="1076" y="644" width="3" height="22"/><rect x="1092" y="644" width="3" height="20"/><rect x="1108" y="644" width="3" height="19"/><rect x="1124" y="644" width="3" height="24"/><rect x="1140" y="644" width="3" height="26"/><rect x="1156" y="644" width="3" height="27"/><rect x="1172" y="644" width="3" height="28"/><rect x="1188" y="644" width="3" height="31"/><rect x="1204" y="644" width="3" height="31"/><rect x="1220" y="644" width="3" height="33"/><rect x="1236" y="644" width="3" height="29"/><rect x="1252" y="644" width="3" height="26"/><rect x="1268" y="644" width="3" height="22"/><rect x="1284" y="644" width="3" height="20"/><rect x="1300" y="644" width="3" height="18"/><rect x="1316" y="644" width="3" height="24"/><rect x="1332" y="644" width="3" height="35"/><rect x="1348" y="644" width="3" height="40"/><rect x="1364" y="644" width="3" height="43"/><rect x="1380" y="644" width="3" height="45"/><rect x="1396" y="644" width="3" height="47"/><rect x="1412" y="644" width="3" height="51"/><rect x="1428" y="644" width="3" height="55"/></g><polyline clip-path="url(#cmacd)" points="4,598 5.5,598 21.5,599.2 37.5,600.8 53.5,602.8 69.5,605.7 85.5,609 101.5,611.6 117.5,614.6 133.5,618.1 149.5,621.1 165.5,623.5 181.5,626 197.5,628.5 213.5,628.9 229.5,628.9 245.5,628.9 261.5,629.5 277.5,630 293.5,630.7 309.5,632.1 325.5,633.6 341.5,634.3 357.5,638.6 373.5,643.4 389.5,650.3 405.5,657.1 421.5,665.5 437.5,672.3 453.5,678.9 469.5,686.6 485.5,692.4 501.5,697.5 517.5,700.4 533.5,702.1 549.5,702.5 565.5,702.5 581.5,702.1 597.5,701.1 613.5,699.5 629.5,698.7 645.5,697 661.5,695.7 677.5,694.1 693.5,693.1 709.5,691.1 725.5,689.8 741.5,689.8 757.5,689.2 773.5,688.9 789.5,688.9 805.5,688.9 821.5,688.9 837.5,688.9 853.5,688.9 869.5,688.9 885.5,688.1 901.5,687.9 917.5,687.2 933.5,686.8 949.5,685.9 965.5,684.9 981.5,684 997.5,683.6 1013.5,682.9 1029.5,682.2 1045.5,681.6 1061.5,680.1 1077.5,678.5 1093.5,676.8 1109.5,674.6 1125.5,671.4 1141.5,669.4 1157.5,667.7 1173.5,667.1 1189.5,667.1 1205.5,667.7 1221.5,669.7 1237.5,670.5 1253.5,671 1269.5,671 1285.5,671 1301.5,669.7 1317.5,668.6 1333.5,669 1349.5,670.3 1365.5,672.3 1381.5,673.6 1397.5,676.4 1413.5,679.4 1429.5,682.9" fill="none" stroke="#ff0000" stroke-width="2" shape-rendering="crispEdges"/><g shape-rendering="crispEdges" stroke="#000" stroke-width="1" stroke-dasharray="3,3"><line x1="6" y1="736.5" x2="1644" y2="736.5"/><line x1="6" y1="766.5" x2="1644" y2="766.5"/><line x1="6" y1="801.5" x2="1644" y2="801.5"/></g><polyline clip-path="url(#crsi)" points="4,759.1 5.5,759.1 21.5,759.1 37.5,762.8 53.5,764.1 69.5,764.7 85.5,764.7 101.5,759.9 117.5,759.9 133.5,766.7 149.5,767.7 165.5,763.1 181.5,763.1 197.5,763.1 213.5,752 229.5,750.4 245.5,749.8 261.5,768.6 277.5,772.9 293.5,773.8 309.5,773.8 325.5,770.8 341.5,773.8 357.5,790.7 373.5,789 389.5,788.8 405.5,790.7 421.5,790.8 437.5,790.8 453.5,788.2 469.5,787.9 485.5,787.9 501.5,786.9 517.5,786.9 533.5,782.7 549.5,786 565.5,778.8 581.5,778 597.5,780 613.5,783.9 629.5,778 645.5,781.9 661.5,781.9 677.5,782.7 693.5,781.9 709.5,778 725.5,781 741.5,785.8 757.5,783.2 773.5,782.7 789.5,785.8 805.5,787.9 821.5,781.9 837.5,775.8 853.5,779.7 869.5,777.1 885.5,775.8 901.5,782.7 917.5,782.7 933.5,777.4 949.5,775.8 965.5,778 981.5,774.9 997.5,780 1013.5,775.4 1029.5,766.1 1045.5,767.6 1061.5,767.6 1077.5,770 1093.5,770 1109.5,771 1125.5,781 1141.5,777.8 1157.5,776.8 1173.5,778 1189.5,781 1205.5,778.8 1221.5,781 1237.5,767.6 1253.5,768.7 1269.5,766.7 1285.5,768.7 1301.5,768.7 1317.5,784.9 1333.5,785.8 1349.5,785.8 1365.5,782.3 1381.5,781.9 1397.5,782.7 1413.5,788.8 1429.5,788.8" fill="none" stroke="#1e90ff" stroke-width="2" shape-rendering="crispEdges"/><g shape-rendering="crispEdges" fill="#000"><rect x="1645" y="57" width="2" height="1"/><rect x="1645" y="90" width="2" height="1"/><rect x="1645" y="123" width="2" height="1"/><rect x="1645" y="156" width="2" height="1"/><rect x="1645" y="189" width="2" height="1"/><rect x="1645" y="222" width="2" height="1"/><rect x="1645" y="255" width="2" height="1"/><rect x="1645" y="288" width="2" height="1"/><rect x="1645" y="321" width="2" height="1"/><rect x="1645" y="354" width="2" height="1"/><rect x="1645" y="387" width="2" height="1"/><rect x="1645" y="420" width="2" height="1"/><rect x="1645" y="453" width="2" height="1"/><rect x="1645" y="486" width="2" height="1"/><rect x="1645" y="519" width="2" height="1"/><rect x="1645" y="552" width="2" height="1"/><rect x="1645" y="585" width="2" height="1"/><rect x="1645" y="592" width="2" height="1"/><rect x="1645" y="644" width="2" height="1"/><rect x="1645" y="711" width="2" height="1"/><rect x="1645" y="716" width="2" height="1"/><rect x="1645" y="816" width="2" height="1"/><rect x="5" y="818" width="1" height="3"/><rect x="69" y="818" width="1" height="3"/><rect x="133" y="818" width="1" height="3"/><rect x="197" y="818" width="1" height="3"/><rect x="261" y="818" width="1" height="3"/><rect x="325" y="818" width="1" height="3"/><rect x="389" y="818" width="1" height="3"/><rect x="453" y="818" width="1" height="3"/><rect x="517" y="818" width="1" height="3"/><rect x="581" y="818" width="1" height="3"/><rect x="645" y="818" width="1" height="3"/><rect x="709" y="818" width="1" height="3"/><rect x="773" y="818" width="1" height="3"/><rect x="837" y="818" width="1" height="3"/><rect x="901" y="818" width="1" height="3"/><rect x="965" y="818" width="1" height="3"/><rect x="1029" y="818" width="1" height="3"/><rect x="1093" y="818" width="1" height="3"/><rect x="1157" y="818" width="1" height="3"/><rect x="1221" y="818" width="1" height="3"/><rect x="1285" y="818" width="1" height="3"/><rect x="1349" y="818" width="1" height="3"/><rect x="1413" y="818" width="1" height="3"/></g><text transform="translate(1650,62) scale(0.88,1)" fill="#000" font-size="10" letter-spacing="0.284" text-anchor="start">1.36800</text><text transform="translate(1650,95) scale(0.88,1)" fill="#000" font-size="10" letter-spacing="0.284" text-anchor="start">1.36460</text><text transform="translate(1650,128) scale(0.88,1)" fill="#000" font-size="10" letter-spacing="0.284" text-anchor="start">1.36120</text><text transform="translate(1650,161) scale(0.88,1)" fill="#000" font-size="10" letter-spacing="0.284" text-anchor="start">1.35770</text><text transform="translate(1650,194) scale(0.88,1)" fill="#000" font-size="10" letter-spacing="0.284" text-anchor="start">1.35430</text><text transform="translate(1650,227) scale(0.88,1)" fill="#000" font-size="10" letter-spacing="0.284" text-anchor="start">1.35090</text><text transform="translate(1650,260) scale(0.88,1)" fill="#000" font-size="10" letter-spacing="0.284" text-anchor="start">1.34750</text><text transform="translate(1650,293) scale(0.88,1)" fill="#000" font-size="10" letter-spacing="0.284" text-anchor="start">1.34400</text><text transform="translate(1650,326) scale(0.88,1)" fill="#000" font-size="10" letter-spacing="0.284" text-anchor="start">1.34060</text><text transform="translate(1650,359) scale(0.88,1)" fill="#000" font-size="10" letter-spacing="0.284" text-anchor="start">1.33720</text><text transform="translate(1650,392) scale(0.88,1)" fill="#000" font-size="10" letter-spacing="0.284" text-anchor="start">1.33370</text><text transform="translate(1650,425) scale(0.88,1)" fill="#000" font-size="10" letter-spacing="0.284" text-anchor="start">1.33030</text><text transform="translate(1650,458) scale(0.88,1)" fill="#000" font-size="10" letter-spacing="0.284" text-anchor="start">1.32690</text><text transform="translate(1650,491) scale(0.88,1)" fill="#000" font-size="10" letter-spacing="0.284" text-anchor="start">1.32340</text><text transform="translate(1650,524) scale(0.88,1)" fill="#000" font-size="10" letter-spacing="0.284" text-anchor="start">1.32000</text><text transform="translate(1650,557) scale(0.88,1)" fill="#000" font-size="10" letter-spacing="0.284" text-anchor="start">1.31660</text><text transform="translate(1650,590) scale(0.88,1)" fill="#000" font-size="10" letter-spacing="0.284" text-anchor="start">1.31310</text><text transform="translate(4,830.7) scale(0.88,1)" fill="#000" font-size="10" letter-spacing="0.261" text-anchor="start">28 May 2023</text><text transform="translate(68,830.7) scale(0.88,1)" fill="#000" font-size="10" letter-spacing="0.261" text-anchor="start">29 May 12:00</text><text transform="translate(132,830.7) scale(0.88,1)" fill="#000" font-size="10" letter-spacing="0.261" text-anchor="start">30 May 04:00</text><text transform="translate(196,830.7) scale(0.88,1)" fill="#000" font-size="10" letter-spacing="0.261" text-anchor="start">30 May 20:00</text><text transform="translate(260,830.7) scale(0.88,1)" fill="#000" font-size="10" letter-spacing="0.261" text-anchor="start">31 May 12:00</text><text transform="translate(324,830.7) scale(0.88,1)" fill="#000" font-size="10" letter-spacing="0.261" text-anchor="start">1 Jun 04:00</text><text transform="translate(388,830.7) scale(0.88,1)" fill="#000" font-size="10" letter-spacing="0.261" text-anchor="start">1 Jun 20:00</text><text transform="translate(452,830.7) scale(0.88,1)" fill="#000" font-size="10" letter-spacing="0.261" text-anchor="start">2 Jun 12:00</text><text transform="translate(516,830.7) scale(0.88,1)" fill="#000" font-size="10" letter-spacing="0.261" text-anchor="start">5 Jun 04:00</text><text transform="translate(580,830.7) scale(0.88,1)" fill="#000" font-size="10" letter-spacing="0.261" text-anchor="start">5 Jun 20:00</text><text transform="translate(644,830.7) scale(0.88,1)" fill="#000" font-size="10" letter-spacing="0.261" text-anchor="start">6 Jun 12:00</text><text transform="translate(708,830.7) scale(0.88,1)" fill="#000" font-size="10" letter-spacing="0.261" text-anchor="start">7 Jun 04:00</text><text transform="translate(772,830.7) scale(0.88,1)" fill="#000" font-size="10" letter-spacing="0.261" text-anchor="start">7 Jun 20:00</text><text transform="translate(836,830.7) scale(0.88,1)" fill="#000" font-size="10" letter-spacing="0.261" text-anchor="start">8 Jun 12:00</text><text transform="translate(900,830.7) scale(0.88,1)" fill="#000" font-size="10" letter-spacing="0.261" text-anchor="start">9 Jun 04:00</text><text transform="translate(964,830.7) scale(0.88,1)" fill="#000" font-size="10" letter-spacing="0.261" text-anchor="start">11 Jun 23:00</text><text transform="translate(1028,830.7) scale(0.88,1)" fill="#000" font-size="10" letter-spacing="0.261" text-anchor="start">12 Jun 12:00</text><text transform="translate(1092,830.7) scale(0.88,1)" fill="#000" font-size="10" letter-spacing="0.261" text-anchor="start">13 Jun 04:00</text><text transform="translate(1156,830.7) scale(0.88,1)" fill="#000" font-size="10" letter-spacing="0.261" text-anchor="start">13 Jun 20:00</text><text transform="translate(1220,830.7) scale(0.88,1)" fill="#000" font-size="10" letter-spacing="0.261" text-anchor="start">14 Jun 12:00</text><text transform="translate(1284,830.7) scale(0.88,1)" fill="#000" font-size="10" letter-spacing="0.261" text-anchor="start">15 Jun 04:00</text><text transform="translate(1348,830.7) scale(0.88,1)" fill="#000" font-size="10" letter-spacing="0.261" text-anchor="start">15 Jun 20:00</text><text transform="translate(1412,830.7) scale(0.88,1)" fill="#000" font-size="10" letter-spacing="0.261" text-anchor="start">16 Jun 12:00</text><text transform="translate(1648,601.5) scale(0.88,1)" fill="#000" font-size="10" letter-spacing="0.284" text-anchor="start">0.003717</text><text transform="translate(1648,649) scale(0.88,1)" fill="#000" font-size="10" letter-spacing="0.284" text-anchor="start">0.00</text><text transform="translate(1648,710) scale(0.88,1)" fill="#000" font-size="10" letter-spacing="0.284" text-anchor="start">-0.004854</text><text transform="translate(1648,726) scale(0.88,1)" fill="#000" font-size="10" letter-spacing="0.284" text-anchor="start">100</text><text transform="translate(1648,741) scale(0.88,1)" fill="#000" font-size="10" letter-spacing="0.284" text-anchor="start">80</text><text transform="translate(1648,771) scale(0.88,1)" fill="#000" font-size="10" letter-spacing="0.284" text-anchor="start">50</text><text transform="translate(1648,806) scale(0.88,1)" fill="#000" font-size="10" letter-spacing="0.284" text-anchor="start">15</text><text transform="translate(1648,815) scale(0.88,1)" fill="#000" font-size="10" letter-spacing="0.284" text-anchor="start">0</text><text transform="translate(20,38.5) scale(0.88,1)" fill="#000" font-size="10" letter-spacing="0.375" text-anchor="start">USDCAD-,H4&#160; 1.31951 1.32002 1.31769 1.31788</text><polygon points="8,33 15,33 11.5,37" fill="#000"/><text transform="translate(10,603.5) scale(0.88,1)" fill="#000" font-size="10" letter-spacing="0.227" text-anchor="start">MACD(12,26,9) -0.003918 -0.002818</text><text transform="translate(9,728) scale(0.88,1)" fill="#000" font-size="10" letter-spacing="0.398" text-anchor="start">RSI(14) 26.7805</text><rect x="1646" y="467" width="41" height="11" fill="#ff0000" shape-rendering="crispEdges"/><text transform="translate(1650,476) scale(0.88,1)" fill="#fff" font-size="10" letter-spacing="0.284">1.32477</text><rect x="1646" y="492" width="41" height="11" fill="#ff0000" shape-rendering="crispEdges"/><text transform="translate(1650,501) scale(0.88,1)" fill="#fff" font-size="10" letter-spacing="0.284">1.32223</text><rect x="1646" y="517" width="41" height="11" fill="#00bfff" shape-rendering="crispEdges"/><text transform="translate(1650,526) scale(0.88,1)" fill="#fff" font-size="10" letter-spacing="0.284">1.31959</text><rect x="1646" y="535" width="41" height="11" fill="#000000" shape-rendering="crispEdges"/><text transform="translate(1650,544) scale(0.88,1)" fill="#fff" font-size="10" letter-spacing="0.284">1.31788</text><rect x="1646" y="557" width="41" height="11" fill="#0000ff" shape-rendering="crispEdges"/><text transform="translate(1650,566) scale(0.88,1)" fill="#fff" font-size="10" letter-spacing="0.284">1.31549</text><rect x="1646" y="577" width="41" height="11" fill="#0000ff" shape-rendering="crispEdges"/><text transform="translate(1650,586) scale(0.88,1)" fill="#fff" font-size="10" letter-spacing="0.284">1.31342</text></svg></body></html>
